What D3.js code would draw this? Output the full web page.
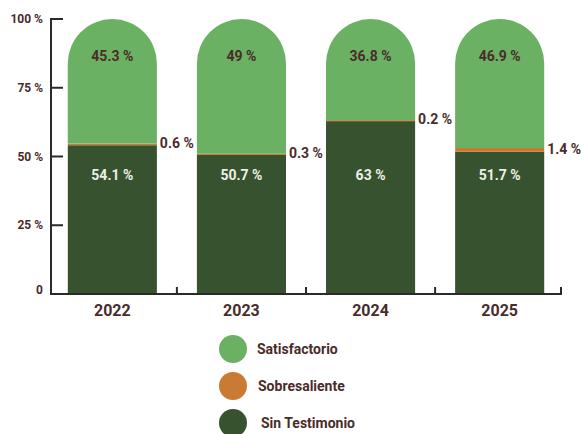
<!DOCTYPE html>
<html><head><meta charset="utf-8">
<script src="https://cdn.jsdelivr.net/npm/d3@7"></script>
<style>body{margin:0;background:#fff}text{font-family:Roboto,"DejaVu Sans",sans-serif;font-weight:700}</style>
</head><body><svg id="c" width="581" height="434"></svg>
<script>
const years = ["2022","2023","2024","2025"];
const sinTestimonio = [54.1, 50.7, 63, 51.7];
const sobresaliente = [0.6, 0.3, 0.2, 1.4];
const satisfactorio = [45.3, 49, 36.8, 46.9];
const yTicks = [0, 25, 50, 75, 100];
const yTickLabels = ["0", "25 %", "50 %", "75 %", "100 %"];
const seriesNames = ["Satisfactorio", "Sobresaliente", "Sin Testimonio"];
const colors = {"Satisfactorio":"#6bb163","Sobresaliente":"#c97b33","Sin Testimonio":"#37522f"};
const textCol = "#4a2c2a";

const svg = d3.select("#c");
const x = d3.scaleBand().domain(years).range([51, 561]).paddingInner(0.31).paddingOuter(0.13);
const y = d3.scaleLinear().domain([0, 100]).range([294, 19]);
const bw = x.bandwidth(), r = bw / 2;

years.forEach((yr, i) => {
  const x0 = x(yr), x1 = x0 + bw, cx = x0 + r;
  const a = sinTestimonio[i], b = a + sobresaliente[i], c = b + satisfactorio[i];
  svg.append("rect").attr("x", x0).attr("y", y(a)).attr("width", bw).attr("height", y(0) - y(a)).attr("fill", colors["Sin Testimonio"]);
  svg.append("rect").attr("x", x0).attr("y", y(b)).attr("width", bw).attr("height", Math.max(y(a) - y(b), 1.2)).attr("fill", colors["Sobresaliente"]);
  const yt = y(Math.min(c, 100));
  svg.append("path").attr("d", `M${x0},${y(b)}L${x0},${yt + r}A${r},${r} 0 0 1 ${x1},${yt + r}L${x1},${y(b)}Z`).attr("fill", colors["Satisfactorio"]);
  svg.append("text").attr("x", cx).attr("y", y(86.5)).attr("text-anchor", "middle").attr("dominant-baseline", "central")
    .attr("font-size", 14).attr("fill", textCol).text(satisfactorio[i] + " %");
  svg.append("text").attr("x", cx).attr("y", y(43.3)).attr("text-anchor", "middle").attr("dominant-baseline", "central")
    .attr("font-size", 14).attr("fill", "#eeeee6").text(sinTestimonio[i] + " %");
  svg.append("text").attr("x", x1 + 3).attr("y", (y(a) + y(b)) / 2 - 1).attr("dominant-baseline", "central")
    .attr("font-size", 14).attr("fill", textCol).text(sobresaliente[i] + " %");
  svg.append("text").attr("x", cx).attr("y", 310).attr("text-anchor", "middle").attr("dominant-baseline", "central")
    .attr("font-size", 16).attr("fill", textCol).text(yr);
});

const axCol = "#2a2a2a";
svg.append("line").attr("x1", 51).attr("x2", 51).attr("y1", y(100)).attr("y2", y(0) + 1).attr("stroke", axCol).attr("stroke-width", 2);
yTicks.forEach((t, i) => {
  svg.append("line").attr("x1", 50).attr("x2", 63).attr("y1", y(t)).attr("y2", y(t)).attr("stroke", axCol).attr("stroke-width", 2);
  svg.append("text").attr("x", 43).attr("y", y(t) - (t === 0 ? 4 : 0)).attr("text-anchor", "end").attr("dominant-baseline", "central")
    .attr("font-size", 12).attr("fill", textCol).text(yTickLabels[i]);
});
svg.append("line").attr("x1", 50).attr("x2", 562).attr("y1", 294).attr("y2", 294).attr("stroke", axCol).attr("stroke-width", 2);
years.forEach((yr, i) => {
  const xb = x(yr) + bw + x.step() * x.paddingInner() / 2;
  const xt = i === years.length - 1 ? 561 : xb;
  svg.append("line").attr("x1", xt).attr("x2", xt).attr("y1", 294).attr("y2", 287).attr("stroke", axCol).attr("stroke-width", 2);
});

const legX = [257, 258, 261];
seriesNames.forEach((n, i) => {
  const ly = 349 + i * 37;
  svg.append("circle").attr("cx", 233).attr("cy", ly).attr("r", 14).attr("fill", colors[n]);
  svg.append("text").attr("x", legX[i]).attr("y", ly).attr("dominant-baseline", "central")
    .attr("font-size", 14).attr("fill", textCol).text(n);
});
</script></body></html>
